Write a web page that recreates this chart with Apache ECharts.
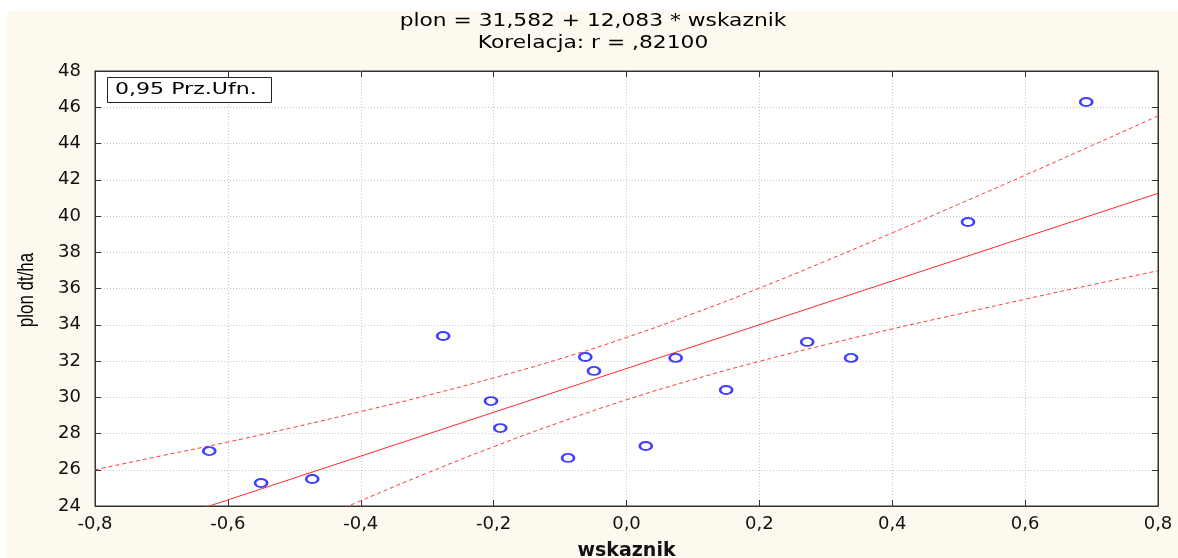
<!DOCTYPE html>
<html>
<head>
<meta charset="utf-8">
<script src="https://cdn.jsdelivr.net/npm/echarts@6/dist/echarts.min.js"></script>
<style>
  html, body { margin: 0; padding: 0; background: #fff; }
  #chart { width: 1178px; height: 558px; }
</style>
</head>
<body>
<div id="chart"></div>
<script>
// measured points (wskaznik, plon)
const wskaznik = [-0.628, -0.550, -0.473, -0.276, -0.204, -0.190, -0.088, -0.062,
                  -0.049, 0.029, 0.074, 0.150, 0.272, 0.338, 0.514, 0.692];
const plon = [27.03, 25.27, 25.49, 33.38, 29.79, 28.30, 26.65, 32.22,
              31.45, 27.31, 32.17, 30.40, 33.05, 32.17, 39.67, 46.29];

// fitted line end points
const fitX = [-0.8, 0.8];
const fitY = [21.92, 41.25];

// 0,95 confidence band
const bandX = [-0.8, -0.7, -0.6, -0.5, -0.4, -0.3, -0.2, -0.1, 0.0,
               0.1, 0.2, 0.3, 0.4, 0.5, 0.6, 0.7, 0.8];
const bandUpper = [26.00, 26.77, 27.53, 28.35, 29.21, 30.10, 31.07, 32.12, 33.30,
                   34.61, 36.02, 37.52, 39.07, 40.65, 42.25, 43.88, 45.52];
const bandLower = [17.84, 19.47, 21.13, 22.73, 24.29, 25.82, 27.27, 28.62, 29.86,
                   30.97, 31.98, 32.90, 33.77, 34.59, 35.41, 36.20, 36.98];

const titleLines = ['plon = 31,582 + 12,083 * wskaznik', 'Korelacja: r = ,82100'];
const legendText = '0,95 Prz.Ufn.';
const yName = 'plon dt/ha';
const xName = 'wskaznik';

const zip = (a, b) => a.map((v, i) => [v, b[i]]);

const fmtX = v => {
  if (Math.abs(v) < 1e-9) return '0,0';
  return v.toFixed(1).replace('.', ',');
};

const chart = echarts.init(document.getElementById('chart'));

const tickStyle = { show: true, inside: true, length: 6, lineStyle: { color: '#333' } };
const lineStyleAx = { show: true, onZero: false, lineStyle: { color: '#333', width: 1 } };
const gridLine = { show: true, lineStyle: { color: '#c8c8c8', type: [1, 2], width: 1 } };
const labelFont = { fontFamily: 'DejaVu Sans', fontSize: 18, color: '#111' };

chart.setOption({
  backgroundColor: '#fef9ee',
  animation: false,
  grid: {
    left: 95, right: 20, top: 71, bottom: 52,
    outerBoundsMode: 'none', containLabel: false,
    show: true, backgroundColor: '#fff', borderColor: '#333', borderWidth: 1
  },
  xAxis: [{
    type: 'value', min: -0.8, max: 0.8, interval: 0.2, position: 'bottom',
    axisLine: lineStyleAx, axisTick: tickStyle, splitLine: gridLine,
    axisLabel: Object.assign({ margin: 9, formatter: fmtX }, labelFont),
    name: xName, nameLocation: 'middle', nameGap: 36,
    nameTextStyle: { fontFamily: 'DejaVu Sans', fontSize: 19, fontWeight: 'bold', color: '#111' }
  }, {
    type: 'value', min: -0.8, max: 0.8, interval: 0.2, position: 'top',
    axisLine: lineStyleAx, axisTick: tickStyle, splitLine: { show: false },
    axisLabel: { show: false }
  }],
  yAxis: [{
    type: 'value', min: 24, max: 48, interval: 2, position: 'left',
    axisLine: lineStyleAx, axisTick: tickStyle, splitLine: gridLine,
    axisLabel: Object.assign({ margin: 14 }, labelFont)
  }, {
    type: 'value', min: 24, max: 48, interval: 2, position: 'right',
    axisLine: lineStyleAx, axisTick: tickStyle, splitLine: { show: false },
    axisLabel: { show: false }
  }],
  series: [{
    type: 'line', data: zip(fitX, fitY), symbol: 'none', clip: true,
    lineStyle: { color: '#ff2a2a', width: 1 }, z: 3
  }, {
    type: 'line', data: zip(bandX, bandUpper), symbol: 'none', clip: true, smooth: true,
    lineStyle: { color: '#ff3a3a', width: 1, type: [4, 3] }, z: 3
  }, {
    type: 'line', data: zip(bandX, bandLower), symbol: 'none', clip: true, smooth: true,
    lineStyle: { color: '#ff3a3a', width: 1, type: [4, 3] }, z: 3
  }, {
    type: 'scatter', data: zip(wskaznik, plon), symbol: 'circle', symbolSize: [12, 8],
    itemStyle: { color: 'rgba(255,255,255,0)', borderColor: '#1010ff', borderWidth: 2.2 }, z: 5
  }],
  graphic: [
    { type: 'rect', shape: { x: 0, y: 0, width: 1178, height: 11 }, style: { fill: '#fff' }, silent: true },
    { type: 'rect', shape: { x: 0, y: 0, width: 7, height: 558 }, style: { fill: '#fff' }, silent: true },
    {
      type: 'text', x: 593, y: 22, scaleX: 1.28,
      style: { text: titleLines[0], font: '17px "DejaVu Sans"', fill: '#000', textAlign: 'center', textVerticalAlign: 'middle' }
    },
    {
      type: 'text', x: 593, y: 44, scaleX: 1.28,
      style: { text: titleLines[1], font: '17px "DejaVu Sans"', fill: '#000', textAlign: 'center', textVerticalAlign: 'middle' }
    },
    {
      type: 'text', x: 27, y: 290, rotation: Math.PI / 2, scaleX: 0.77,
      style: { text: yName, font: '22px "Liberation Sans"', fill: '#000', textAlign: 'center', textVerticalAlign: 'middle' }
    },
    {
      type: 'rect', shape: { x: 107.5, y: 77.5, width: 164, height: 25 },
      style: { fill: '#fff', stroke: '#222', lineWidth: 1 }, z: 10
    },
    {
      type: 'text', x: 115, y: 90, scaleX: 1.38, z: 11,
      style: { text: legendText, font: '16px "DejaVu Sans"', fill: '#000', textAlign: 'left', textVerticalAlign: 'middle' }
    }
  ]
});
</script>
</body>
</html>
